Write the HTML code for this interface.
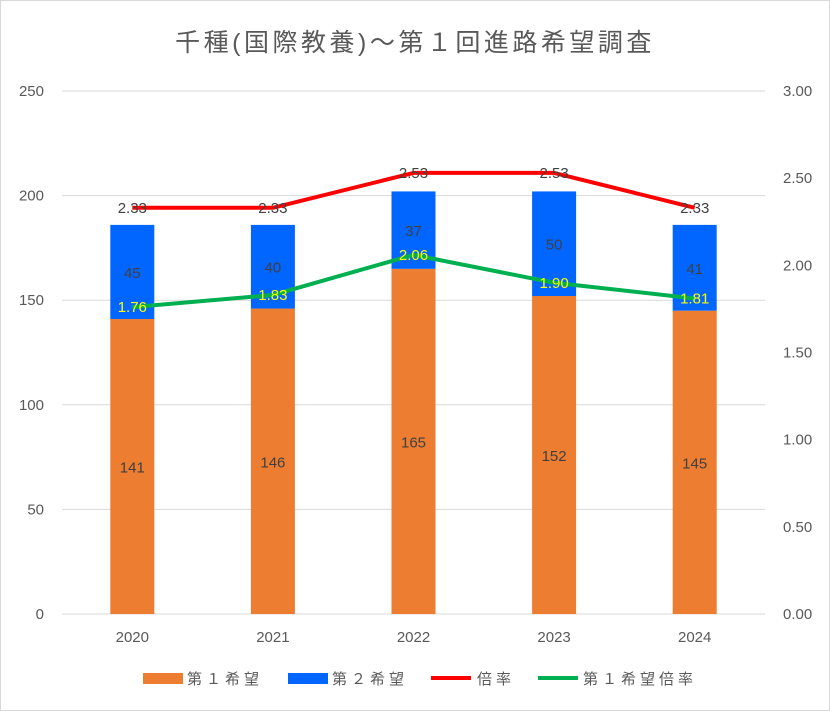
<!DOCTYPE html>
<html><head><meta charset="utf-8"><style>
body{margin:0;background:#fff;}
svg{display:block;font-family:"Liberation Sans","Noto Sans CJK JP",sans-serif;}
</style></head><body>
<svg id="chart" width="830" height="711" viewBox="0 0 830 711" xmlns="http://www.w3.org/2000/svg">
<rect x="0.5" y="0.5" width="829" height="710" fill="#fff" stroke="#d9d9d9"/>
<text x="415" y="51" text-anchor="middle" font-size="25" letter-spacing="3.5" fill="#595959">千種(国際教養)～第１回進路希望調査</text>
<g id="grid"></g><g id="bars"></g><g id="lines"></g><g id="labels"></g>
<g font-size="15" fill="#595959" letter-spacing="4">
<rect x="143" y="673" width="40" height="11" fill="#ed7d31"/>
<text x="187" y="684">第１希望</text>
<rect x="288" y="673" width="40" height="11" fill="#0066ff"/>
<text x="332" y="684">第２希望</text>
<line x1="431" y1="678" x2="471" y2="678" stroke="#ff0000" stroke-width="4"/>
<text x="477" y="684">倍率</text>
<line x1="538" y1="678" x2="578" y2="678" stroke="#00b050" stroke-width="4"/>
<text x="583" y="684">第１希望倍率</text>
</g>
</svg>
<script>
const categories=["2020","2021","2022","2023","2024"];
const firstChoice=[141,146,165,152,145];
const secondChoice=[45,40,37,50,41];
const ratio=[2.33,2.33,2.53,2.53,2.33];
const firstRatio=[1.76,1.83,2.06,1.90,1.81];
const leftTicks=[0,50,100,150,200,250];
const rightTicks=["0.00","0.50","1.00","1.50","2.00","2.50","3.00"];
const NS="http://www.w3.org/2000/svg";
const L=62,R=765,T=91,B=614;
const yL=v=>B-(v/250)*(B-T);
const yR=v=>B-(v/3)*(B-T);
const xC=i=>L+(R-L)/categories.length*(i+0.5);
const bw=44;
function mk(tag,attrs,parent,text){const e=document.createElementNS(NS,tag);for(const k in attrs)e.setAttribute(k,attrs[k]);if(text!==undefined)e.textContent=text;document.getElementById(parent).appendChild(e);return e;}
leftTicks.forEach(t=>{
 const g=mk("line",{x1:L,x2:R,y1:yL(t),y2:yL(t),stroke:"#d9d9d9","stroke-width":1},"grid");
 
 
 const tx=mk("text",{x:44,y:yL(t)+5,"text-anchor":"end","font-size":15,fill:"#595959"},"grid",String(t));
 
 
});
rightTicks.forEach(t=>{
 const tx=mk("text",{x:783,y:yR(+t)+5,"font-size":15,fill:"#595959"},"grid",t);
 
 
});
categories.forEach((c,i)=>{
 const x=xC(i);
 const tx=mk("text",{x:x,y:642,"text-anchor":"middle","font-size":15,fill:"#595959"},"grid",c);
 
 
 const b1=mk("rect",{x:x-bw/2,y:yL(firstChoice[i]),width:bw,height:B-yL(firstChoice[i]),fill:"#ed7d31"},"bars");
 
 
 const top=firstChoice[i]+secondChoice[i];
 const b2=mk("rect",{x:x-bw/2,y:yL(top),width:bw,height:yL(firstChoice[i])-yL(top),fill:"#0066ff"},"bars");
 
 
 const l1=mk("text",{x:x,y:(yL(firstChoice[i])+B)/2+6,"text-anchor":"middle","font-size":15,fill:"#404040"},"labels",String(firstChoice[i]));
 
 
 const l2=mk("text",{x:x,y:(yL(firstChoice[i])+yL(top))/2+6,"text-anchor":"middle","font-size":15,fill:"#404040"},"labels",String(secondChoice[i]));
 
 
 const l3=mk("text",{x:x,y:yR(ratio[i])+5,"text-anchor":"middle","font-size":15,fill:"#404040"},"labels",ratio[i].toFixed(2));
 
 
 const l4=mk("text",{x:x,y:yR(firstRatio[i])+5,"text-anchor":"middle","font-size":15,fill:"#ffff00"},"labels",firstRatio[i].toFixed(2));
 
 
});
const p1=mk("polyline",{points:ratio.map((v,i)=>xC(i)+","+yR(v)).join(" "),fill:"none",stroke:"#ff0000","stroke-width":4,"stroke-linejoin":"round"},"lines");


const p2=mk("polyline",{points:firstRatio.map((v,i)=>xC(i)+","+yR(v)).join(" "),fill:"none",stroke:"#00b050","stroke-width":4,"stroke-linejoin":"round"},"lines");


</script>
</body></html>
